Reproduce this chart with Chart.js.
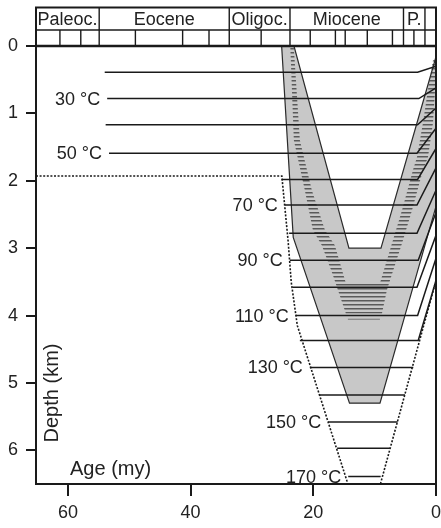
<!DOCTYPE html>
<html>
<head>
<meta charset="utf-8">
<script src="https://cdn.jsdelivr.net/npm/chart.js@4/dist/chart.umd.min.js"></script>
<style>
  html, body { margin: 0; padding: 0; background: #fff; }
  canvas { display: block; }
</style>
</head>
<body>
<canvas id="burial" width="441" height="528"></canvas>
<script>
(function(){
  // axes
  const ageTicks = [0, 20, 40, 60];
  const depthTicks = [0, 1, 2, 3, 4, 5, 6];

  // time scale header (ages in my)
  const epochNames = ['Paleoc.', 'Eocene', 'Oligoc.', 'Miocene', 'P.', ''];
  const epochBounds = [65.2, 54.9, 33.7, 23.8, 5.3, 1.8, 0];
  const stageBounds = [61.3, 57.9, 49.0, 41.3, 37.0, 28.5, 20.5, 16.4, 14.8, 11.2, 7.1, 3.6];

  // grey unit: outer and inner outline (age my, depth km)
  const outerAge = [25.16, 23.27, 14.1, 9.13, 0];
  const outerDepth = [0, 2.84, 5.30, 5.30, 2.38];
  const innerAge = [23.15, 14.19, 8.97, 0];
  const innerDepth = [0, 3.0, 3.0, 0.16];

  // hatched band inside the unit
  const hatchAge = [23.74, 23.17, 21.38, 20.07, 18.60, 16.81, 15.99, 14.69, 8.81, 8.00, 7.51, 5.55, 3.92, 2.12, 1.31, 0.49, 0.16, 0,
                    0.49, 1.31, 2.12, 3.10, 3.75, 5.55, 7.18, 9.14, 14.69, 16.48, 18.11, 20.24, 22.19, 23.17];
  const hatchDepth = [0.03, 1.40, 2.14, 2.73, 2.96, 3.40, 3.62, 3.97, 3.97, 3.62, 3.48, 2.93, 2.44, 1.84, 1.65, 1.14, 0.65, 0.21,
                      0.21, 0.65, 1.14, 1.65, 1.84, 2.44, 2.93, 3.52, 3.52, 2.96, 2.73, 2.14, 1.40, 0.03];
  const faintAge = [14.36, 9.14];
  const faintDepth = [4.055, 4.055];

  // isotherms
  const isoTemp = [20, 30, 40, 50, 60, 70, 80, 90, 100, 110, 120, 130, 140, 150, 160, 170];
  const isoDepth = [0.39, 0.78, 1.17, 1.59, 1.98, 2.36, 2.78, 3.18, 3.58, 4.0, 4.37, 4.77, 5.18, 5.58, 5.97, 6.39];
  const isoFrom = [54.0, 53.6, 53.85, 53.3, 25.18, 24.64, 23.94, 23.83, 23.38, 22.85, 22.19, 20.56, 19.04, 17.58, 16.11, 14.31];
  const isoTo = [3.0, 2.8, 3.0, 3.1, 3.0, 3.1, 3.1, 2.9, 3.1, 3.0, 2.9, 3.70, 5.06, 6.25, 7.51, 9.02];
  const isoSurf = [0.30, 0.62, 0.92, 1.22, 1.52, 1.81, 2.14, 2.47, 2.81, 3.15, 3.48, null, null, null, null, null];

  // dotted envelope
  const dotLAge = [65.2, 25.13, 24.1, 23.6, 22.6, 14.36];
  const dotLDepth = [1.93, 1.93, 2.9, 3.5, 4.15, 6.5];
  const dotRAge = [0, 9.06];
  const dotRDepth = [3.48, 6.5];

  const FONT = '"Liberation Sans", Arial, Helvetica, sans-serif';
  const INK = '#1a1a1a';

  function pts(ages, depths){ return ages.map((a, i) => ({ x: a, y: depths[i] })); }

  function lineSet(data, opts){
    return Object.assign({ data, showLine: true, fill: false, pointRadius: 0, borderColor: INK, borderWidth: 1.6, tension: 0 }, opts || {});
  }

  const datasets = [];
  datasets.push(lineSet(pts(dotLAge, dotLDepth), { borderDash: [2, 1.6], borderWidth: 1.6, order: 1 }));
  datasets.push(lineSet(pts(dotRAge, dotRDepth), { borderDash: [2, 1.6], borderWidth: 1.6, order: 1 }));
  isoTemp.forEach((t, i) => {
    const d = [{ x: isoFrom[i], y: isoDepth[i] }, { x: isoTo[i], y: isoDepth[i] }];
    if (isoSurf[i] !== null) d.push({ x: 0, y: isoSurf[i] });
    datasets.push(lineSet(d, { order: 2, borderWidth: 1.5 }));
  });
  datasets.push(lineSet(pts(outerAge, outerDepth), { order: 3, borderWidth: 1.2, borderColor: '#2a2a2a' }));
  datasets.push(lineSet(pts(innerAge, innerDepth), { order: 3, borderWidth: 1.2, borderColor: '#2a2a2a' }));
  datasets.push(lineSet(pts(faintAge, faintDepth), { order: 3, borderWidth: 1, borderColor: '#777' }));

  function hatchPattern(ctx){
    const c = document.createElement('canvas'); c.width = 8; c.height = 4;
    const g = c.getContext('2d'); g.fillStyle = '#5a5a5a'; g.fillRect(0, 0, 8, 1.5);
    return ctx.createPattern(c, 'repeat');
  }

  function poly(ctx, chart, ages, depths){
    const sx = chart.scales.x, sy = chart.scales.y;
    ctx.beginPath();
    ages.forEach((a, i) => {
      const X = sx.getPixelForValue(a), Y = sy.getPixelForValue(depths[i]);
      if (i) ctx.lineTo(X, Y); else ctx.moveTo(X, Y);
    });
    ctx.closePath();
  }

  function seg(ctx, x0, y0, x1, y1){ ctx.beginPath(); ctx.moveTo(x0, y0); ctx.lineTo(x1, y1); ctx.stroke(); }

  const burialPlugin = {
    id: 'burial',
    beforeDatasetsDraw(chart){
      const ctx = chart.ctx, a = chart.chartArea;
      ctx.save();
      ctx.beginPath(); ctx.rect(a.left, a.top, a.right - a.left, a.bottom - a.top); ctx.clip();
      poly(ctx, chart, outerAge.concat([0]), outerDepth.concat([0]));
      ctx.fillStyle = '#c8c8c8'; ctx.fill();
      poly(ctx, chart, innerAge.concat([0]), innerDepth.concat([0]));
      ctx.fillStyle = '#ffffff'; ctx.fill();
      poly(ctx, chart, hatchAge, hatchDepth);
      ctx.fillStyle = hatchPattern(ctx); ctx.fill();
      ctx.restore();
    },
    afterDatasetsDraw(chart){
      const ctx = chart.ctx, sx = chart.scales.x, sy = chart.scales.y;
      ctx.save();
      ctx.fillStyle = '#222';
      ctx.font = '18px ' + FONT;
      ctx.textAlign = 'right'; ctx.textBaseline = 'middle';
      isoTemp.forEach((t, i) => {
        if ((t - 30) % 20 !== 0) return;
        ctx.fillText(t + ' °C', sx.getPixelForValue(isoFrom[i]) - 7, sy.getPixelForValue(isoDepth[i]) + 1);
      });
      ctx.font = '20px ' + FONT;
      ctx.textAlign = 'left';
      ctx.fillText('Age (my)', 70, 469);
      ctx.translate(52, 393); ctx.rotate(-Math.PI / 2);
      ctx.textAlign = 'center';
      ctx.fillText('Depth (km)', 0, 0);
      ctx.restore();
    },
    afterDraw(chart){
      const ctx = chart.ctx, a = chart.chartArea, sx = chart.scales.x;
      const top = 7.5, mid = 30, bot = a.top;
      ctx.save();
      ctx.strokeStyle = INK;
      ctx.lineWidth = 1.4;
      stageBounds.forEach(v => { const X = sx.getPixelForValue(v); seg(ctx, X, mid, X, bot); });
      epochBounds.slice(1, -1).forEach(v => { const X = sx.getPixelForValue(v); seg(ctx, X, top, X, bot); });
      seg(ctx, a.left, mid, a.right, mid);
      ctx.lineWidth = 2;
      ctx.strokeRect(a.left, top, a.right - a.left, bot - top);
      ctx.lineWidth = 2.5;
      seg(ctx, a.left, bot, a.right, bot);
      ctx.lineWidth = 2;
      seg(ctx, a.right, top, a.right, a.bottom);
      ctx.fillStyle = '#222';
      ctx.font = '18px ' + FONT;
      ctx.textAlign = 'center'; ctx.textBaseline = 'middle';
      epochNames.forEach((n, i) => {
        const x0 = sx.getPixelForValue(epochBounds[i]), x1 = sx.getPixelForValue(epochBounds[i + 1]);
        ctx.fillText(n, (x0 + x1) / 2, (top + mid) / 2 + 1);
      });
      ctx.restore();
    }
  };

  new Chart(document.getElementById('burial'), {
    type: 'scatter',
    data: { datasets },
    options: {
      responsive: false,
      animation: false,
      layout: { padding: { top: 46, right: 5, left: 0, bottom: 0 } },
      plugins: { legend: { display: false }, tooltip: { enabled: false } },
      scales: {
        x: {
          type: 'linear', reverse: true, min: 0, max: 65.2,
          afterFit: s => { s.height = 44; },
          afterBuildTicks: s => { s.ticks = ageTicks.map(v => ({ value: v })); },
          grid: { drawOnChartArea: false, drawTicks: true, tickLength: 12, color: INK, lineWidth: 2 },
          border: { display: true, color: INK, width: 2 },
          ticks: { color: '#222', font: { family: FONT, size: 18 }, padding: 6, maxRotation: 0 }
        },
        y: {
          type: 'linear', reverse: true, min: 0, max: 6.5,
          afterFit: s => { s.width = 36; },
          afterBuildTicks: s => { s.ticks = depthTicks.map(v => ({ value: v })); },
          grid: { drawOnChartArea: false, drawTicks: true, tickLength: 10, color: INK, lineWidth: 2 },
          border: { display: true, color: INK, width: 2 },
          ticks: { color: '#222', font: { family: FONT, size: 18 }, padding: 8 }
        }
      }
    },
    plugins: [burialPlugin]
  });
})();
</script>
</body>
</html>
